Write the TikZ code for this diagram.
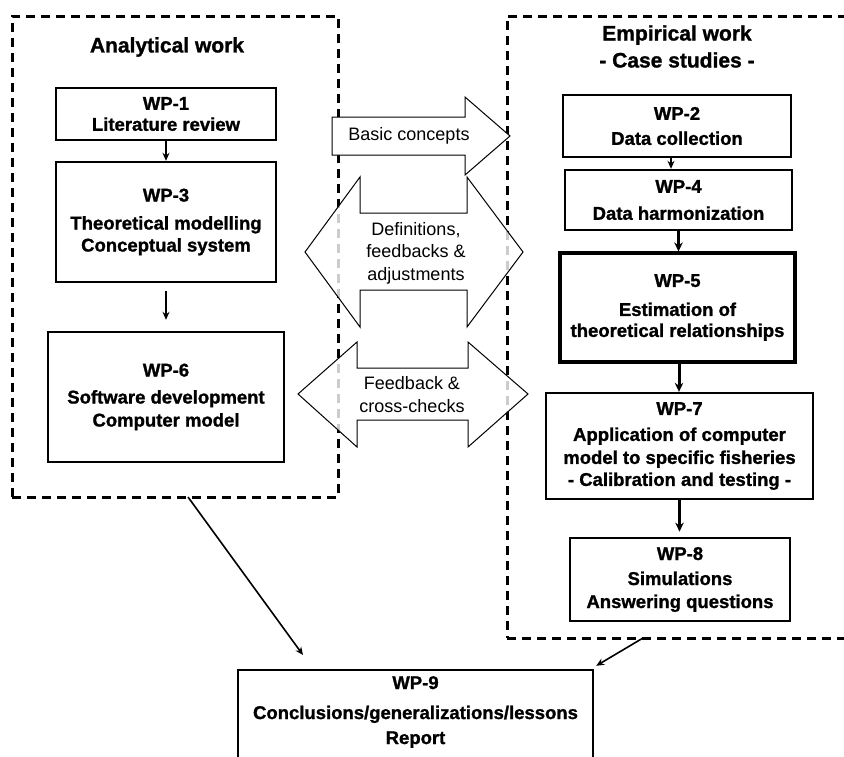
\documentclass[tikz,border=0pt]{standalone}
\usepackage{fontspec}
\setmainfont{Liberation Sans}[BoldFeatures={FakeBold=1.2}]
\usetikzlibrary{arrows.meta,calc}
\begin{document}
\begin{tikzpicture}[x=1pt,y=-1pt,
  wpbox/.style={draw, line width=2.4pt, fill=white, inner sep=0pt, align=center, font=\bfseries\fontsize{18.5}{23}\selectfont},
  dashbox/.style={draw, line width=3pt, dash pattern=on 9pt off 6pt, inner sep=0pt},
  titletext/.style={align=center, font=\bfseries\fontsize{21}{27}\selectfont},
  bigarrow/.style={draw=black, line width=1pt, fill=white, fill opacity=0.8, line join=miter},
  arrlabel/.style={align=center, font=\fontsize{18}{22.5}\selectfont},
  thinarr/.style={-{Stealth[length=8pt,width=7pt]}, line width=1.6pt},
  thickarr/.style={-{Stealth[length=9pt,width=8.5pt]}, line width=3pt},
]
\useasboundingbox (0,0) rectangle (844,756);
\clip (0,0) rectangle (844,756);

% dashed group boxes
\node[dashbox, minimum width=326pt, minimum height=481pt] (anal) at (175,256.5) {};
\node[dashbox, minimum width=354pt, minimum height=622pt] (emp) at (684,327) {};

% titles
\node[titletext] (analtitle) at (167,47) {Analytical work};
\node[titletext] (emptitle) at (677,46.5) {Empirical work\\- Case studies -};

% big block arrows
\path[bigarrow, fill opacity=1] (332,117) -- (465,117) -- (465,97) -- (510,136) -- (465,175) -- (465,155) -- (332,155) -- cycle;
\node[arrlabel] (basic) at (409,136) {Basic concepts};

\path[bigarrow] (305,252) -- (360,177) -- (360,213) -- (467,213) -- (467,177) -- (523,252)
  -- (467,327) -- (467,290) -- (360,290) -- (360,327) -- cycle;
\node[arrlabel] (defs) at (416,253) {Definitions,\\feedbacks \&\\adjustments};

\path[bigarrow] (298,394) -- (357,342) -- (357,368) -- (468,368) -- (468,342) -- (528,394)
  -- (468,447) -- (468,420) -- (357,420) -- (357,447) -- cycle;
\node[arrlabel] (feed) at (412,394.5) {Feedback \&\\cross-checks};

% left boxes
\node[wpbox, minimum width=220pt, minimum height=52pt] (wp1) at (166,114) {WP-1\\[-2pt]Literature review};
\node[wpbox, minimum width=220pt, minimum height=120pt] (wp3) at (166,222) {WP-3\\[5pt]Theoretical modelling\\[-1pt]Conceptual system};
\node[wpbox, minimum width=236pt, minimum height=130pt] (wp6) at (166,397) {WP-6\\[4pt]Software development\\Computer model};

% right boxes
\node[wpbox, line width=2.8pt, minimum width=228pt, minimum height=62pt] (wp2) at (677,126) {WP-2\\[2pt]Data collection};
\node[wpbox, minimum width=227pt, minimum height=60pt] (wp4) at (678.5,200) {WP-4\\[4pt]Data harmonization};
\node[wpbox, line width=3.1pt, minimum width=235pt, minimum height=109pt] (wp5) at (677.5,307.5) {WP-5\\[6pt]Estimation of\\[-2pt]theoretical relationships};
\node[wpbox, minimum width=267pt, minimum height=106pt] (wp7) at (679.5,446) {WP-7\\[3pt]Application of computer\\model to specific fisheries\\[-1pt]- Calibration and testing -};
\node[wpbox, line width=2.7pt, minimum width=220pt, minimum height=83pt] (wp8) at (680,579.5) {WP-8\\[2pt]Simulations\\Answering questions};

% bottom box
\node[wpbox, minimum width=355pt, minimum height=110pt] (wp9) at (415.5,725) {};
\node[font=\bfseries\fontsize{18.5}{23}\selectfont, align=center] (wp9t) at (415.5,712) {WP-9\\[7pt]Conclusions/generalizations/lessons\\[2pt]Report};

% connectors
\draw[thinarr] (wp1.south) -- (wp3.north);
\draw[thinarr, shorten <=8pt, shorten >=11pt] (wp3.south) -- (wp6.north);
\draw[thinarr] ([xshift=-6pt]wp2.south) -- ([xshift=-6pt]wp2.south |- wp4.north);
\draw[thickarr] (wp4.south) -- (wp4.south |- wp5.north);
\draw[thickarr] ([xshift=1.5pt]wp5.south) -- ([xshift=1.5pt]wp5.south |- wp7.north);
\draw[thickarr, shorten >=5pt] (wp7.south) -- (wp7.south |- wp8.north);

\coordinate (la) at (188,497);
\coordinate (lb) at (303,655);
\draw[thinarr] (la) -- (lb);
\coordinate (ra) at (643,638);
\draw[thinarr] (ra) -- ([xshift=2pt,yshift=3pt]wp9.north east);
\end{tikzpicture}
\end{document}
